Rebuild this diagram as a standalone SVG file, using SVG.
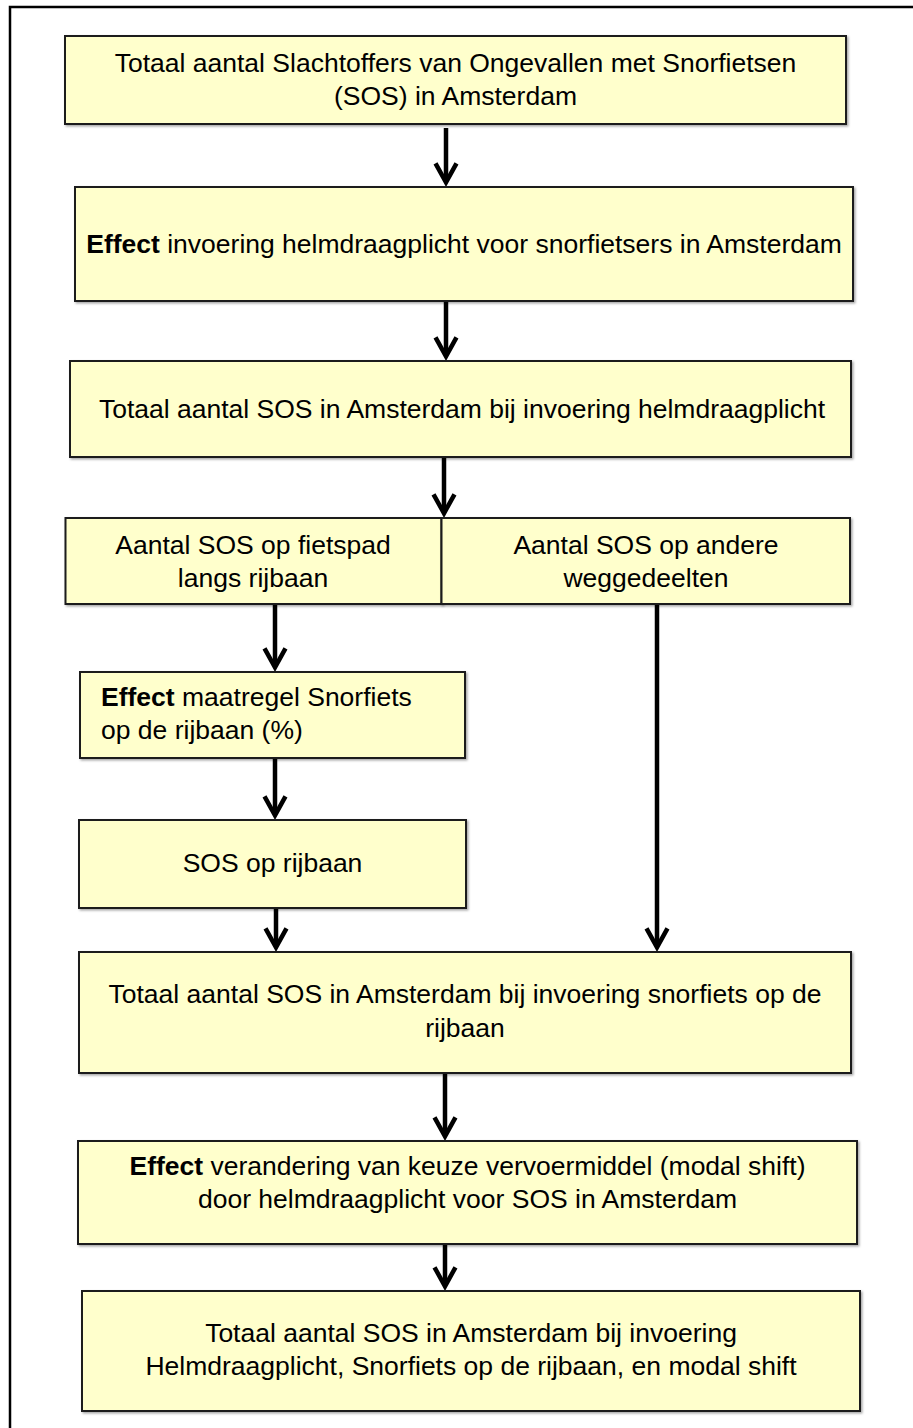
<svg xmlns="http://www.w3.org/2000/svg" width="913" height="1428" viewBox="0 0 913 1428">
<style>
.box{fill:#FFFFCC;stroke:#1c1c1c;stroke-width:2;filter:url(#sh)}
.t{font-family:"Liberation Sans",Arial,sans-serif;font-size:26.5px;fill:#000;text-anchor:middle}
.l{text-anchor:start}
.b{font-weight:bold}
.c{stroke:#000;stroke-width:4.5;fill:none;marker-end:url(#ah)}
</style>
<defs>
<filter id="sh" x="-5%" y="-5%" width="110%" height="115%">
<feDropShadow dx="1.5" dy="1.5" stdDeviation="0.8" flood-color="#000" flood-opacity="0.35"/>
</filter>
<marker id="ah" markerUnits="userSpaceOnUse" markerWidth="40" markerHeight="40" refX="0" refY="0" orient="auto" overflow="visible">
<path d="M-17.7,-10.5 L1.3,0 L-17.7,10.5" fill="none" stroke="#000" stroke-width="4.5" stroke-linejoin="miter" stroke-miterlimit="10"/>
</marker>
</defs>
<rect width="913" height="1428" fill="#fff"/>
<path d="M10,1428 L10,7 L913,7" fill="none" stroke="#000" stroke-width="2.5"/>

<g id="connectors">
<path class="c" d="M446,128 L446,181"/>
<path class="c" d="M446,301 L446,355"/>
<path class="c" d="M444,457 L444,512"/>
<path class="c" d="M275,604 L275,666"/>
<path class="c" d="M275,758 L275,814"/>
<path class="c" d="M276,908 L276,946"/>
<path class="c" d="M657,604 L657,946"/>
<path class="c" d="M445,1073 L445,1135"/>
<path class="c" d="M445,1244 L445,1285"/>
</g>

<g id="n1">
<rect class="box" x="65" y="36" width="781" height="88"/>
<text class="t" x="455.5" y="72">Totaal aantal Slachtoffers van Ongevallen met Snorfietsen</text>
<text class="t" x="455.5" y="105">(SOS) in Amsterdam</text>
</g>

<g id="n2">
<rect class="box" x="75" y="187" width="778" height="114"/>
<text class="t" x="464" y="253"><tspan class="b">Effect</tspan> invoering helmdraagplicht voor snorfietsers in Amsterdam</text>
</g>

<g id="n3">
<rect class="box" x="70" y="361" width="781" height="96"/>
<text class="t" x="462" y="418">Totaal aantal SOS in Amsterdam bij invoering helmdraagplicht</text>
</g>

<g id="n4">
<rect class="box" x="65.5" y="518" width="376" height="86"/>
<text class="t" x="253" y="554">Aantal SOS op fietspad</text>
<text class="t" x="253" y="587">langs rijbaan</text>
</g>

<g id="n5">
<rect class="box" x="441.5" y="518" width="408.5" height="86"/>
<text class="t" x="646" y="554">Aantal SOS op andere</text>
<text class="t" x="646" y="587">weggedeelten</text>
</g>

<g id="n6">
<rect class="box" x="80" y="672" width="385" height="86"/>
<text class="t l" x="101" y="706"><tspan class="b">Effect</tspan> maatregel Snorfiets</text>
<text class="t l" x="101" y="739">op de rijbaan (%)</text>
</g>

<g id="n7">
<rect class="box" x="79" y="820" width="387" height="88"/>
<text class="t" x="272.5" y="872">SOS op rijbaan</text>
</g>

<g id="n8">
<rect class="box" x="79" y="952" width="772" height="121"/>
<text class="t" x="465" y="1003">Totaal aantal SOS in Amsterdam bij invoering snorfiets op de</text>
<text class="t" x="465" y="1037">rijbaan</text>
</g>

<g id="n9">
<rect class="box" x="78" y="1141" width="779" height="103"/>
<text class="t" x="467.5" y="1175"><tspan class="b">Effect</tspan> verandering van keuze vervoermiddel (modal shift)</text>
<text class="t" x="467.5" y="1208">door helmdraagplicht voor SOS in Amsterdam</text>
</g>

<g id="n10">
<rect class="box" x="82" y="1291" width="778" height="120"/>
<text class="t" x="471" y="1342">Totaal aantal SOS in Amsterdam bij invoering</text>
<text class="t" x="471" y="1375">Helmdraagplicht, Snorfiets op de rijbaan, en modal shift</text>
</g>
</svg>
